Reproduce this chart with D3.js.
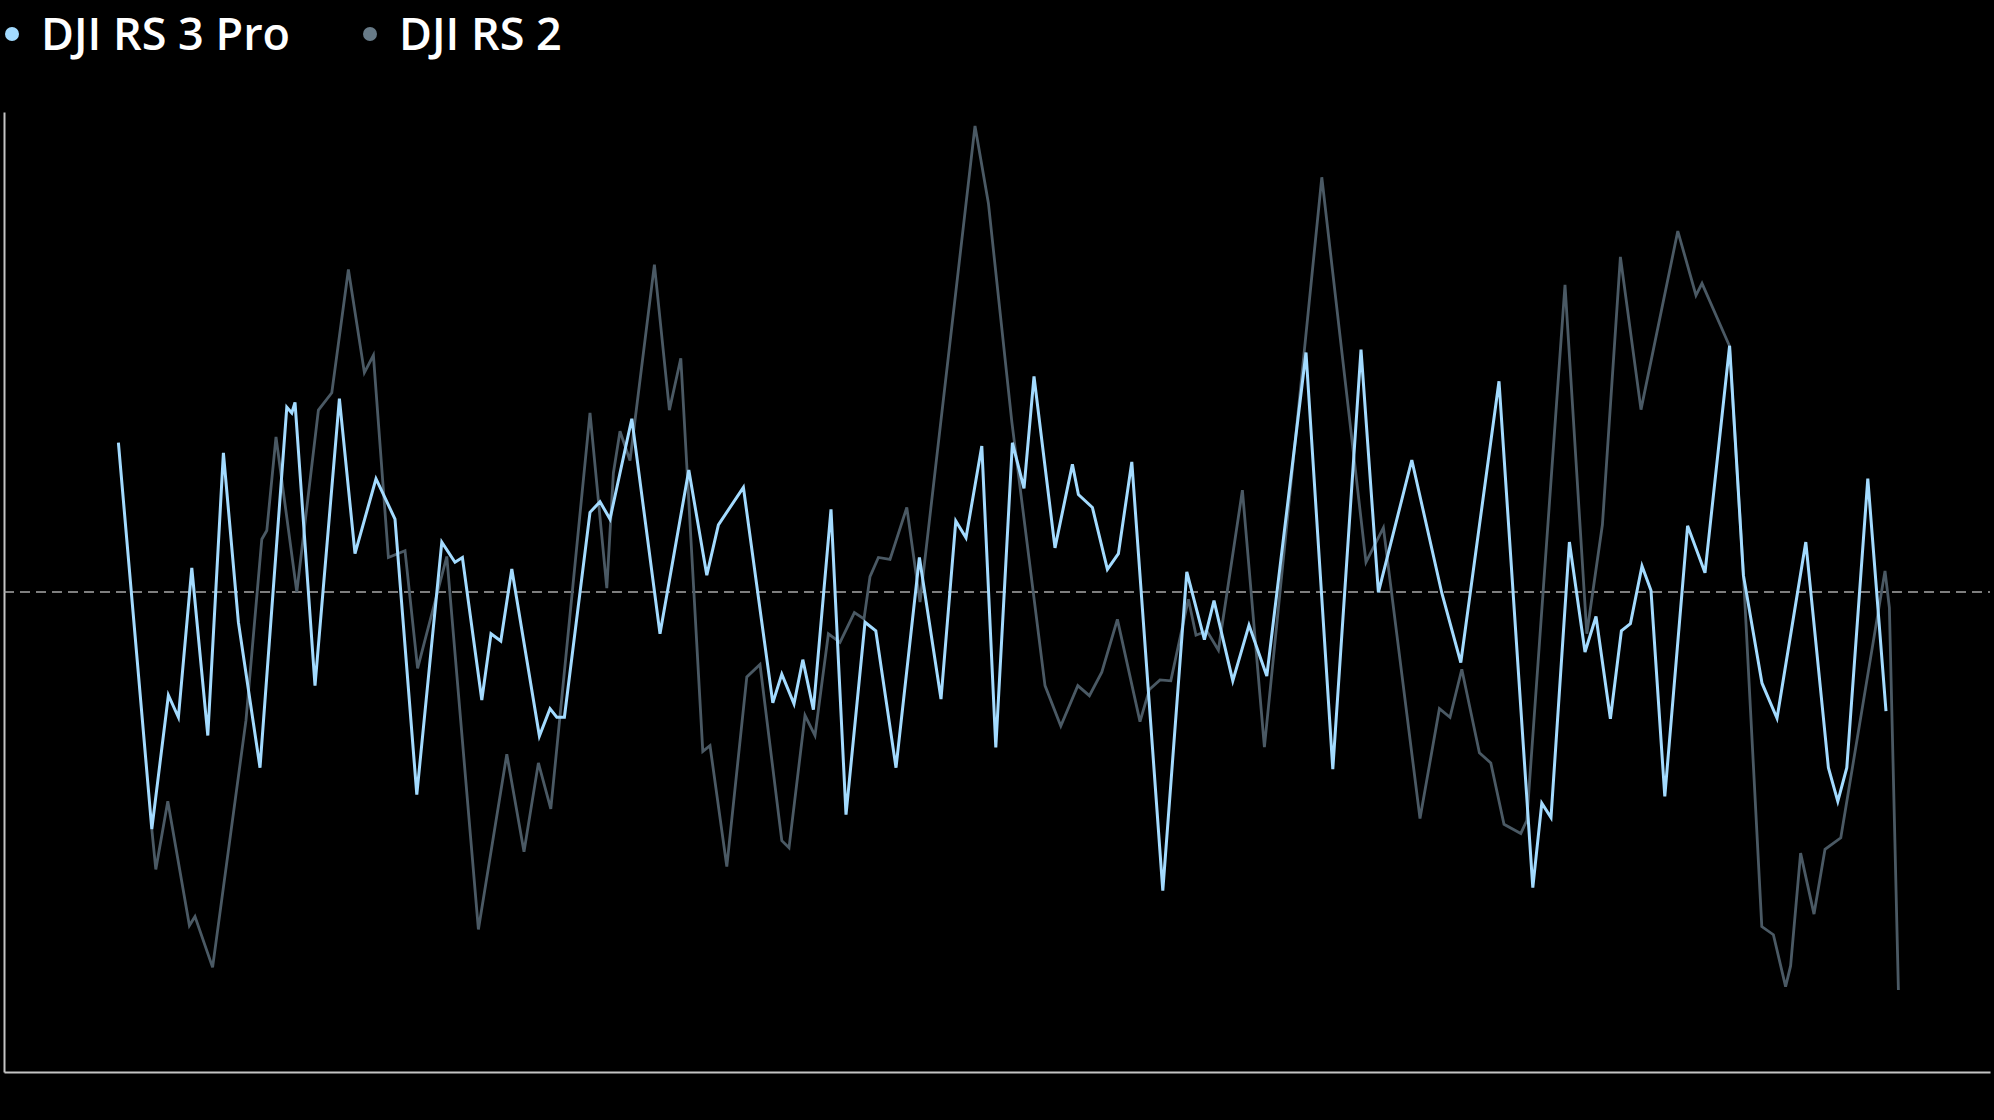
<!DOCTYPE html>
<html>
<head>
<meta charset="utf-8">
<script src="https://cdn.jsdelivr.net/npm/d3@7"></script>
<style>
  html, body { margin: 0; padding: 0; background: #000; }
  svg { display: block; }
</style>
</head>
<body>
<svg id="chart" width="1994" height="1120"></svg>
<script>
// ---- data ----
const seriesNames = ["DJI RS 3 Pro", "DJI RS 2"];
const seriesColors = ["#a3dbff", "#4a5964"];
const legendDotColors = ["#a3dbff", "#687b88"];

const rs3Pro_t = [57.2,73.9,82.2,87.2,93.9,101.9,109.7,117.2,128.0,141.4,143.9,145.5,155.5,167.7,175.5,186.0,195.5,206.4,218.9,225.5,229.2,238.9,243.5,248.4,253.9,267.7,273.0,276.4,280.2,293.0,298.0,303.0,313.9,328.0,342.4,351.4,357.2,369.7,384.4,388.9,395.0,399.4,404.7,413.5,421.0,430.5,435.9,446.0,457.7,468.5,475.9,481.0,488.9,495.9,504.2,510.0,515.0,525.5,534.2,537.2,544.2,551.7,557.2,563.9,579.4,591.4,600.2,605.0,614.4,622.5,631.4,651.0,664.4,678.5,687.2,703.9,718.9,728.4,747.5,764.4,768.9,773.5,782.7,790.5,796.0,803.2,808.7,813.2,819.0,823.5,830.4,841.8,850.5,862.8,869.7,879.0,886.5,900.9,912.2,916.9,921.4,931.9,941.0];
const rs3Pro_v = [31.1,-49.4,-21.5,-26.1,5.0,-29.9,29.0,-6.3,-36.6,38.5,37.3,39.5,-19.5,40.3,8.0,23.6,15.2,-42.2,10.4,6.2,7.2,-22.5,-8.7,-10.2,4.8,-30.0,-24.3,-26.1,-26.1,16.6,18.8,15.2,36.1,-8.7,25.4,3.5,14.0,21.8,-23.1,-17.1,-23.3,-14.1,-24.5,17.2,-46.4,-6.3,-8.1,-36.6,7.2,-22.3,14.8,11.3,30.4,-32.4,31.1,21.6,44.9,9.2,26.6,20.3,17.6,4.7,8.0,27.1,-62.2,4.2,-9.9,-1.8,-18.5,-6.9,-17.5,49.9,-36.9,50.5,-0.1,27.5,-0.2,-14.7,43.9,-61.6,-44.0,-47.0,10.4,-12.5,-5.1,-26.4,-8.1,-6.6,5.4,0.3,-42.6,13.8,4.0,51.3,3.5,-19.0,-26.3,10.4,-36.6,-43.6,-36.6,23.6,-24.8];

const rs2_t = [73.9,75.9,81.9,92.7,95.5,104.3,121.0,128.9,131.4,136.0,146.4,157.2,163.9,172.2,180.2,184.7,192.2,200.5,206.8,221.4,237.2,251.4,260.0,267.2,273.4,293.0,301.4,304.7,308.0,313.0,325.2,332.7,338.4,349.4,353.0,361.4,371.4,378.0,388.9,392.5,400.5,405.5,412.2,418.0,425.2,430.0,433.0,437.2,443.0,451.4,458.0,485.5,492.2,503.9,520.5,528.4,536.9,542.7,548.9,556.7,568.0,572.7,578.0,583.4,592.2,596.0,601.4,607.2,619.2,630.2,658.9,681.0,689.7,708.0,717.7,723.0,728.9,737.7,743.4,750.0,758.4,761.4,780.5,791.4,799.2,808.2,818.5,836.9,846.0,849.0,862.7,869.7,878.9,884.7,890.8,893.3,898.3,905.0,910.5,918.4,940.5,942.7,947.2];
const rs2_v = [-49.4,-57.8,-43.6,-69.5,-67.6,-78.2,-26.7,11.0,12.8,32.3,0,37.9,41.5,67.2,45.7,49.3,7.2,8.6,-15.9,7.4,-70.3,-33.8,-54.1,-35.6,-45.2,37.3,0.8,24.8,33.5,27.4,68.2,37.9,48.7,-33.2,-32.0,-57.2,-17.7,-15.1,-51.8,-53.3,-25.7,-29.9,-8.7,-10.5,-4.3,-5.6,3.2,7.2,6.8,17.6,-2.1,97.1,81.0,35.5,-19.5,-27.9,-19.5,-21.6,-16.7,-5.7,-27.0,-20.3,-18.3,-18.5,-1.5,-9.0,-8.1,-12.1,21.2,-32.3,86.4,6.2,13.4,-47.2,-24.3,-26.1,-16.1,-33.5,-35.6,-48.4,-50.3,-47.6,64.0,-8.7,14.0,69.8,38.0,75.2,61.8,64.3,51.3,3.8,-69.7,-71.4,-82.2,-77.9,-54.4,-67.1,-53.6,-51.2,4.4,-3.3,-82.9];

const xDomain = [0, 993];
const yDomain = [-100, 100];
const baselineValue = 0;

// ---- layout ----
const W = 1994, H = 1120;
const plot = { left: 4, right: 1990, top: 112, bottom: 1072 };

const svg = d3.select("#chart");
svg.append("rect").attr("width", W).attr("height", H).attr("fill", "#000");

const x = d3.scaleLinear().domain(xDomain).range([plot.left, plot.right]);
const y = d3.scaleLinear().domain(yDomain).range([plot.bottom, plot.top]);

// axes (domain lines only)
const gx = svg.append("g").attr("transform", `translate(0,${plot.bottom})`)
  .call(d3.axisBottom(x).ticks(0).tickSizeOuter(0));
const gy = svg.append("g").attr("transform", `translate(${plot.left},0)`)
  .call(d3.axisLeft(y).ticks(0).tickSizeOuter(0));
[gx, gy].forEach(g => g.select(".domain").attr("stroke", "#c4c4c4").attr("stroke-width", 2));

// dashed baseline
svg.append("line")
  .attr("x1", x(xDomain[0])).attr("x2", x(xDomain[1]))
  .attr("y1", y(baselineValue)).attr("y2", y(baselineValue))
  .attr("stroke", "#a8a8a8").attr("stroke-width", 1.6)
  .attr("stroke-dasharray", "10,6");

const line = d3.line().x(d => x(d[0])).y(d => y(d[1]));
const rs3 = rs3Pro_t.map((t, i) => [t, rs3Pro_v[i]]);
const rs2 = rs2_t.map((t, i) => [t, rs2_v[i]]);

svg.append("path").datum(rs2).attr("d", line)
  .attr("fill", "none").attr("stroke", seriesColors[1]).attr("stroke-width", 2.8)
  .attr("stroke-linejoin", "miter");
svg.append("path").datum(rs3).attr("d", line)
  .attr("fill", "none").attr("stroke", seriesColors[0]).attr("stroke-width", 3)
  .attr("stroke-linejoin", "miter");

// legend
const legendX = [12, 370];
const legend = svg.append("g");
seriesNames.forEach((name, i) => {
  legend.append("circle").attr("cx", legendX[i]).attr("cy", 34).attr("r", 7)
    .attr("fill", legendDotColors[i]);
  legend.append("text").attr("x", legendX[i] + 29).attr("y", 50)
    .attr("fill", "#ffffff")
    .attr("font-family", "'Open Sans', 'Noto Sans', sans-serif")
    .attr("font-weight", 600)
    .attr("font-size", 45)
    .text(name);
});
</script>
</body>
</html>
